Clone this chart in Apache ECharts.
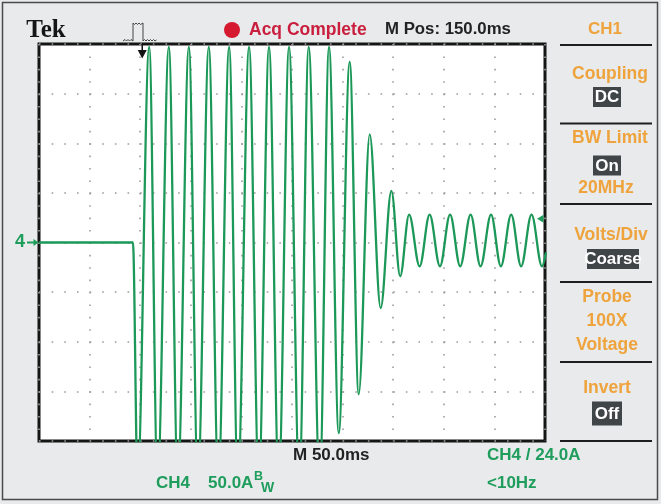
<!DOCTYPE html>
<html><head><meta charset="utf-8">
<script src="https://cdn.jsdelivr.net/npm/echarts@6/dist/echarts.min.js"></script>
<style>html,body{margin:0;padding:0;background:#e8eaeb}#c{width:661px;height:504px}</style>
</head><body><div id="c"></div>
<script>
// ---- Data (time relative to trigger, ms; CH4 current, A) ----
// Extrema of the waveform (peaks / troughs), plus the flat pre-trigger baseline.
const timeMs = [-100, -7.2, -2.6, 8.9, 17.2, 28.3, 37.2, 48.1, 57.0, 67.8, 77.2, 87.9, 96.5,
  107.6, 117.2, 127.3, 136.9, 147.1, 157.2, 166.5, 177.4, 186.6, 196.2, 207.0, 215.9, 226.8,
  237.6, 248.2, 256.9, 265.7, 276.1, 286.0, 296.2, 306.2, 316.2, 326.5, 336.3, 346.7, 356.4,
  366.6, 376.4, 386.7, 397.0, 401.0];
const currentA = [0, 0, -240, 197, -240, 197, -240, 197, -240, 197, -240, 197, -240,
  197, -240, 197, -240, 197, -240, 197, -240, 197, -192, 182, -153, 109,
  -66, 52, -34, 28, -24, 28, -24, 28, -24, 28, -24, 28, -24,
  28, -24, 28, -24, -10];
// Scope settings
const timePerDivMs = 50;     // M 50.0ms
const ampsPerDiv = 50;       // CH4 50.0A
const groundLevelA = 0;      // "4" marker
const triggerLevelA = 24.0;  // CH4 / 24.0A
const triggerTimeMs = 2;     // trigger marker on the top edge

const GREEN = '#1f9d5c', ORANGE = '#efa33c', DARK = '#222222';
const SANS = '"Liberation Sans", Arial, sans-serif';
const font = (s) => `bold ${s}px ${SANS}`;

const chart = echarts.init(document.getElementById('c'));
chart.setOption({
  animation: false,
  backgroundColor: '#e8eaeb',
  grid: { left: 39, top: 44, width: 506, height: 397, show: true, backgroundColor: '#ffffff',
          borderColor: '#151515', borderWidth: 3 },
  xAxis: { type: 'value', min: -2 * timePerDivMs, max: 8 * timePerDivMs, interval: timePerDivMs,
    axisLine: { show: false }, axisTick: { show: false }, axisLabel: { show: false },
    splitLine: { show: true, lineStyle: { color: '#9c9c9c', width: 1.6, type: [1.6, 10.8] } } },
  yAxis: { type: 'value', min: -4 * ampsPerDiv, max: 4 * ampsPerDiv, interval: ampsPerDiv,
    axisLine: { show: false }, axisTick: { show: false }, axisLabel: { show: false },
    splitLine: { show: true, lineStyle: { color: '#9c9c9c', width: 1.6, type: [1.6, 11.05] } } },
  series: [{
    type: 'line', data: timeMs.map((t, i) => [t, currentA[i]]), showSymbol: false,
    smooth: 0.35, smoothMonotone: 'x', clip: true, z: 3,
    lineStyle: { color: '#1c9858', width: 2.3 }
  }]
});

const gnd = chart.convertToPixel({ gridIndex: 0 }, [0, groundLevelA]);
const trg = chart.convertToPixel({ gridIndex: 0 }, [triggerTimeMs, triggerLevelA]);
const right = chart.convertToPixel({ gridIndex: 0 }, [8 * timePerDivMs, 0])[0];

function txt(text, x, y, size, fill, align, extra) {
  return Object.assign({ type: 'text', x: x, y: y, z: 10,
    style: { text: text, fill: fill, font: font(size), align: align || 'center', verticalAlign: 'middle',
             textAlign: align || 'center', textVerticalAlign: 'middle' } }, extra || {});
}
function box(text, cx, cy, w, h) {
  return [
    { type: 'rect', z: 9, shape: { x: cx - w / 2, y: cy - h / 2, width: w, height: h }, style: { fill: '#404548' } },
    txt(text, cx, cy + 0.5, 17, '#ffffff')
  ];
}
function sep(y) {
  return { type: 'line', z: 9, shape: { x1: 560, y1: y, x2: 652, y2: y }, style: { stroke: '#1e1e1e', lineWidth: 2 } };
}

const g = [
  { type: 'rect', z: 1, shape: { x: 2.5, y: 2.5, width: 655, height: 497 }, style: { fill: 'none', stroke: '#4a4a4a', lineWidth: 1.5 } },
  // header
  { type: 'text', x: 46, y: 31, z: 10, style: { text: 'Tek', fill: '#151515', font: 'bold 25px "Liberation Serif", "Times New Roman", serif',
     align: 'center', verticalAlign: 'middle', textAlign: 'center', textVerticalAlign: 'middle' } },
  { type: 'polyline', z: 10, shape: { points: [[123,41],[125,39.5],[126.5,41],[128,39.5],[129.5,41],[131,39.5],[133,41],[133,23],
      [134.5,24.5],[136,23],[137.5,24.5],[139,23],[140.5,24.5],[143,23],[143,41],[144.5,39.5],[146,41],[147.5,39.5],
      [149,41],[150.5,39.5],[152,41],[153.5,39.5],[155,41],[156.5,40]] }, style: { stroke: '#444', lineWidth: 1, fill: 'none' } },
  { type: 'circle', z: 10, shape: { cx: 232, cy: 30, r: 8 }, style: { fill: '#d5192f' } },
  txt('Acq Complete', 249, 30, 17.5, '#c91e3d', 'left'),
  txt('M Pos: 150.0ms', 385, 29, 16.8, DARK, 'left'),
  // right panel
  txt('CH1', 605, 29, 17, ORANGE),
  sep(45),
  txt('Coupling', 610, 74, 17.5, ORANGE),
  ...box('DC', 607, 97, 28, 20),
  sep(123.5),
  txt('BW Limit', 610, 138.5, 17.5, ORANGE),
  ...box('On', 607, 165.5, 28, 20),
  txt('20MHz', 606, 188, 17.5, ORANGE),
  sep(204),
  txt('Volts/Div', 611, 235, 17.5, ORANGE),
  ...box('Coarse', 613, 259, 52, 20),
  sep(282),
  txt('Probe', 607, 297, 17.5, ORANGE),
  txt('100X', 607, 321.5, 17.5, ORANGE),
  txt('Voltage', 607, 345, 17.5, ORANGE),
  sep(362),
  txt('Invert', 607, 388, 17.5, ORANGE),
  ...box('Off', 607, 413.5, 30, 24),
  sep(441),
  // footer
  txt('M 50.0ms', 293, 455.5, 17, DARK, 'left'),
  txt('CH4 / 24.0A', 487, 455.5, 17, GREEN, 'left'),
  txt('CH4', 156, 483, 17, GREEN, 'left'),
  txt('50.0A', 208, 483, 17, GREEN, 'left'),
  txt('B', 254, 477, 12.5, GREEN, 'left'),
  txt('W', 261, 488, 14, GREEN, 'left'),
  txt('<10Hz', 487, 483, 17, GREEN, 'left'),
  // ground marker (left)
  txt('4', 20, gnd[1], 18, GREEN),
  { type: 'line', z: 10, shape: { x1: 27, y1: gnd[1], x2: 35, y2: gnd[1] }, style: { stroke: GREEN, lineWidth: 2 } },
  { type: 'polygon', z: 10, shape: { points: [[38.5, gnd[1]], [33.5, gnd[1] - 3.5], [33.5, gnd[1] + 3.5]] }, style: { fill: GREEN } },
  // trigger level marker (right edge)
  { type: 'polygon', z: 10, shape: { points: [[right - 8, trg[1]], [right - 1.5, trg[1] - 4], [right - 1.5, trg[1] + 4]] }, style: { fill: GREEN } },
  // trigger position marker (top edge)
  { type: 'line', z: 10, shape: { x1: trg[0], y1: 44, x2: trg[0], y2: 51 }, style: { stroke: '#111', lineWidth: 1.5 } },
  { type: 'polygon', z: 10, shape: { points: [[trg[0] - 4.5, 50], [trg[0] + 4.5, 50], [trg[0], 58.5]] }, style: { fill: '#111' } }
];
chart.setOption({ graphic: { elements: g } });
</script></body></html>
